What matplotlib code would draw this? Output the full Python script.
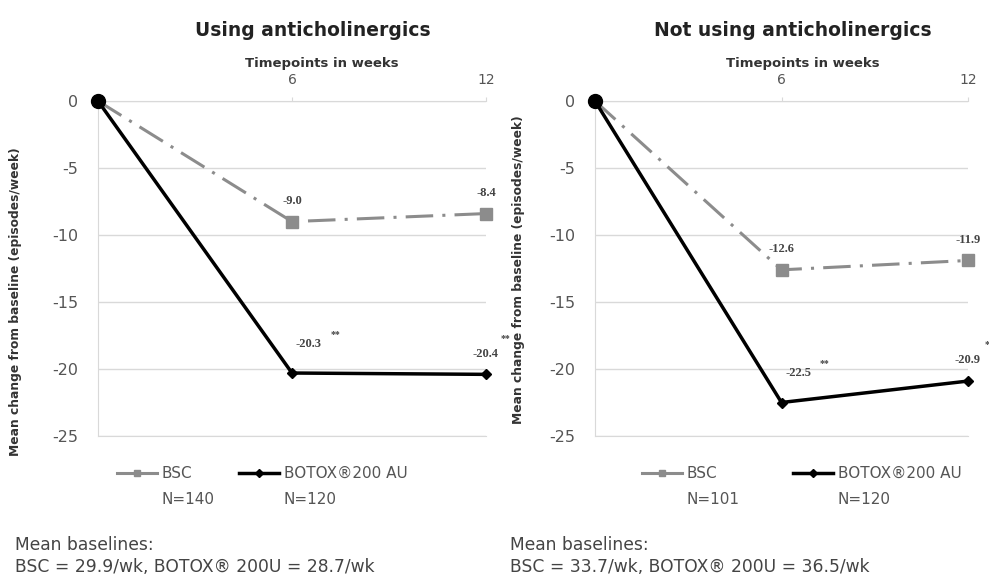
import matplotlib
matplotlib.use("Agg")
import matplotlib.pyplot as plt
from matplotlib.lines import Line2D

plt.rcParams['font.family'] = ['DejaVu Sans']

weeks = [0, 6, 12]
titles = ["Using anticholinergics", "Not using anticholinergics"]
bsc_vals = [[0, -9.0, -8.4], [0, -12.6, -11.9]]
botox_vals = [[0, -20.3, -20.4], [0, -22.5, -20.9]]
botox_stars = [["", "**", "**"], ["", "**", "*"]]
bsc_n = ["N=140", "N=101"]
botox_n = ["N=120", "N=120"]
baselines = ["BSC = 29.9/wk, BOTOX\u00ae 200U = 28.7/wk",
             "BSC = 33.7/wk, BOTOX\u00ae 200U = 36.5/wk"]
yticks = [0, -5, -10, -15, -20, -25]
xticks = [6, 12]

W, H = 989, 576
fig = plt.figure(figsize=(W / 100, H / 100), dpi=100)

panels = [(98, 486), (595, 968)]
title_x = [313, 793]
xlabel_x = [322, 803]
ylabel_x = [22, 525]
ylabel_y = [302, 270]
legend_x = [117, 642]
colspace = [3.1, 5.0]
footer_x = [15, 510]
top_px, bot_px = 101, 436
grey = "#8c8c8c"
gridc = "#d9d9d9"
txtc = "#555555"

lab_off = {1: (12, 21), 2: (0, 15)}
star_off = {1: (31, 28), 2: (14, 26)}

for i, (x0, x1) in enumerate(panels):
    ax = fig.add_axes([x0 / W, 1 - bot_px / H, (x1 - x0) / W, (bot_px - top_px) / H])
    ax.set_xlim(0, 12)
    ax.set_ylim(-25, 0)
    ax.set_yticks(yticks)
    ax.set_yticklabels([str(v) for v in yticks], fontsize=11.5, color=txtc)
    ax.xaxis.tick_top()
    ax.set_xticks(xticks)
    ax.set_xticklabels([str(v) for v in xticks], fontsize=10, color=txtc)
    ax.tick_params(axis="y", length=0, pad=14)
    ax.tick_params(axis="x", length=3, color=gridc, pad=7)
    ax.grid(axis="y", color=gridc, lw=1)
    ax.spines["right"].set_visible(False)
    for s in ["left", "top", "bottom"]:
        ax.spines[s].set_color(gridc)
    ax.set_axisbelow(True)

    b = bsc_vals[i]
    t = botox_vals[i]
    ax.plot(weeks, b, color=grey, lw=2.2, dashes=(9, 3, 1, 3),
            marker="s", ms=8, markevery=[1, 2], clip_on=False, zorder=3)
    ax.plot(weeks, t, color="black", lw=2.5, marker="D", ms=5,
            markevery=[1, 2], clip_on=False, zorder=4)
    ax.plot(weeks[0], t[0], marker="o", ms=10, color="black", clip_on=False, zorder=5)

    for j in (1, 2):
        ax.annotate(f"{b[j]:.1f}", (weeks[j], b[j]), xytext=(0, 15),
                    textcoords="offset points", ha="center", va="center",
                    fontsize=9, fontweight="bold", color="#444444",
                    family="Liberation Serif", annotation_clip=False)
        ax.annotate(f"{t[j]:.1f}", (weeks[j], t[j]), xytext=lab_off[j],
                    textcoords="offset points", ha="center", va="center",
                    fontsize=9, fontweight="bold", color="#444444",
                    family="Liberation Serif", annotation_clip=False)
        ax.annotate(botox_stars[i][j], (weeks[j], t[j]), xytext=star_off[j],
                    textcoords="offset points", ha="center", va="center",
                    fontsize=7, fontweight="bold", color="#444444",
                    family="Liberation Serif", annotation_clip=False)

    ax.set_ylabel("Mean change from baseline (episodes/week)", fontsize=8.8,
                  fontweight="bold", color="#333333")
    ax.yaxis.set_label_coords((ylabel_x[i] - x0) / (x1 - x0),
                              (bot_px - ylabel_y[i]) / (bot_px - top_px))

    fig.text(xlabel_x[i] / W, 1 - 63 / H, "Timepoints in weeks", fontsize=9.5,
             fontweight="bold", color="#333333", ha="center", va="center")
    fig.text(title_x[i] / W, 1 - 30 / H, titles[i], fontsize=13.5,
             fontweight="bold", color="#222222", ha="center", va="center")

    handles = [Line2D([], [], color=grey, lw=2.2, marker="s", ms=5),
               Line2D([], [], color="black", lw=2.5, marker="D", ms=4)]
    leg = fig.legend(handles, ["BSC", "BOTOX\u00ae200 AU"], ncol=2,
                     loc="upper left",
                     bbox_to_anchor=(legend_x[i] / W, 1 - 466 / H),
                     bbox_transform=fig.transFigure,
                     frameon=False, fontsize=11, handlelength=2.6,
                     columnspacing=colspace[i], handletextpad=0.3,
                     borderpad=0, borderaxespad=0)
    for tx in leg.get_texts():
        tx.set_color(txtc)
    fig.canvas.draw()
    r = fig.canvas.get_renderer()
    for tx, n in zip(leg.get_texts(), [bsc_n[i], botox_n[i]]):
        bb = tx.get_window_extent(r)
        fig.text(bb.x0 / W, 1 - 500 / H, n, fontsize=11, color=txtc,
                 ha="left", va="center")

    fig.text(footer_x[i] / W, 1 - 545 / H, "Mean baselines:", fontsize=12.3,
             color="#444444", va="center")
    fig.text(footer_x[i] / W, 1 - 567 / H, baselines[i], fontsize=12.3,
             color="#444444", va="center")

fig.savefig("out.png", dpi=100)
